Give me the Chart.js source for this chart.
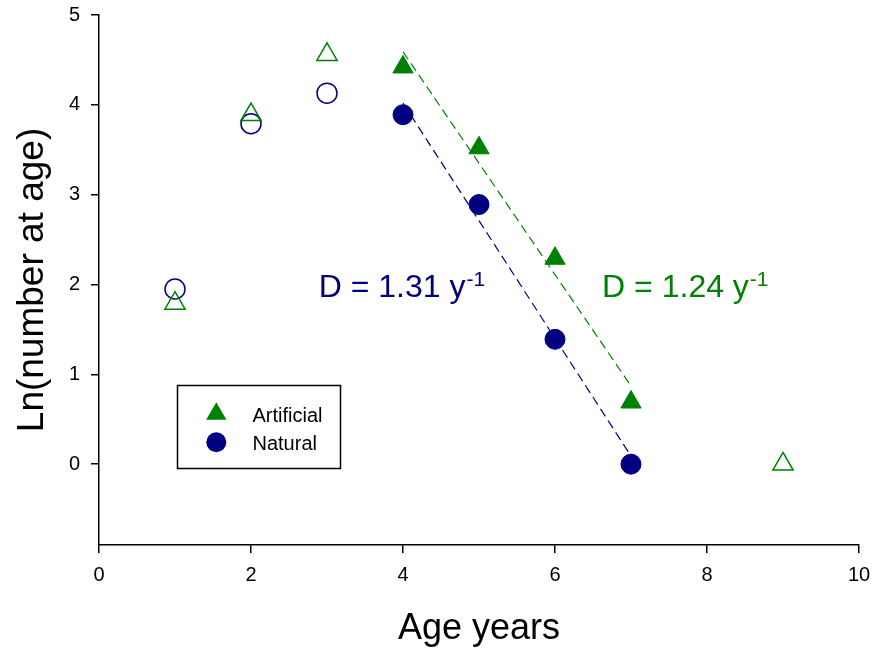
<!DOCTYPE html>
<html lang="en">
<head>
<meta charset="UTF-8">
<title>Ln(number at age) vs Age</title>
<script src="https://cdn.jsdelivr.net/npm/chart.js"></script>
<style>
  html, body { margin: 0; padding: 0; background: #fff; }
  #wrap { width: 874px; height: 651px; position: relative; }
</style>
</head>
<body>
<div id="wrap"><canvas id="chart"></canvas></div>
<script>
// data
const artificialAges = [1, 2, 3, 4, 5, 6, 7, 9];
const artificialLn   = [1.79, 3.89, 4.56, 4.42, 3.52, 2.29, 0.69, 0];
const artificialUsed = [false, false, false, true, true, true, true, false];

const naturalAges = [1, 2, 3, 4, 5, 6, 7];
const naturalLn   = [1.95, 3.79, 4.13, 3.89, 2.89, 1.39, 0];
const naturalUsed = [false, false, false, true, true, true, true];

// regression lines (end points)
const artificialFitX = [4, 7];
const artificialFitY = [4.59, 0.87];
const naturalFitX = [4, 7];
const naturalFitY = [4.02, 0.09];

const xTicks = [0, 2, 4, 6, 8, 10];
const yTicks = [0, 1, 2, 3, 4, 5];

const GREEN = '#008000';
const NAVY = '#000080';
const FONT = "'Liberation Sans', Arial, sans-serif";

function pts(xs, ys, keep) {
    const out = [];
    xs.forEach((x, i) => { if (keep(i)) out.push({ x: x, y: ys[i] }); });
    return out;
}

// annotations + legend + axis titles
const extras = {
    id: 'extras',
    afterDraw(chart) {
        const ctx = chart.ctx;
        const xs = chart.scales.x, ys = chart.scales.y;
        ctx.save();

        // axis titles
        ctx.fillStyle = '#000';
        ctx.font = '36px ' + FONT;
        ctx.textAlign = 'center';
        ctx.textBaseline = 'alphabetic';
        ctx.fillText('Age years', 479, 639);
        ctx.save();
        ctx.translate(43, 280);
        ctx.rotate(-Math.PI / 2);
        ctx.font = '37px ' + FONT;
        ctx.fillText('Ln(number at age)', 0, 0);
        ctx.restore();

        // rate labels
        function rateLabel(txt, xv, yv, color) {
            const px = xs.getPixelForValue(xv), py = ys.getPixelForValue(yv);
            ctx.fillStyle = color;
            ctx.textAlign = 'left';
            ctx.font = '32px ' + FONT;
            ctx.fillText(txt, px, py);
            const w = ctx.measureText(txt).width;
            ctx.font = '21px ' + FONT;
            ctx.fillText('-1', px + w + 1, py - 11);
        }
        rateLabel('D = 1.31 y', 2.89, 1.86, NAVY);
        rateLabel('D = 1.24 y', 6.62, 1.86, GREEN);

        // legend box
        ctx.strokeStyle = '#000';
        ctx.lineWidth = 1.5;
        ctx.strokeRect(177.5, 385.5, 163, 83);
        ctx.fillStyle = GREEN;
        const r = 11.7, cx = 216.3, cy = 414;
        ctx.beginPath();
        ctx.moveTo(cx, cy - r);
        ctx.lineTo(cx + r * Math.sin(2 * Math.PI / 3), cy + r / 2);
        ctx.lineTo(cx - r * Math.sin(2 * Math.PI / 3), cy + r / 2);
        ctx.closePath();
        ctx.fill();
        ctx.fillStyle = NAVY;
        ctx.beginPath();
        ctx.arc(216.3, 442.3, 10, 0, Math.PI * 2);
        ctx.fill();
        ctx.fillStyle = '#000';
        ctx.font = '20px ' + FONT;
        ctx.fillText('Artificial', 252.5, 421.5);
        ctx.fillText('Natural', 252.5, 450);

        ctx.restore();
    }
};

const openStyle = (color, shape, r) => ({
    pointStyle: shape, pointRadius: r, pointHoverRadius: r,
    backgroundColor: 'rgba(255,255,255,0)', borderColor: color, borderWidth: 1.5, showLine: false
});
const fillStyle = (color, shape, r) => ({
    pointStyle: shape, pointRadius: r, pointHoverRadius: r,
    backgroundColor: color, borderColor: color, borderWidth: 1, showLine: false
});

new Chart(document.getElementById('chart'), {
    type: 'scatter',
    data: {
        datasets: [
            Object.assign({ label: 'Artificial', order: 0,
                data: pts(artificialAges, artificialLn, i => artificialUsed[i]) }, fillStyle(GREEN, 'triangle', 11.7)),
            Object.assign({ label: 'Artificial (not fitted)', order: 0,
                data: pts(artificialAges, artificialLn, i => !artificialUsed[i]) }, openStyle(GREEN, 'triangle', 11.7)),
            Object.assign({ label: 'Natural', order: 0,
                data: pts(naturalAges, naturalLn, i => naturalUsed[i]) }, fillStyle(NAVY, 'circle', 10)),
            Object.assign({ label: 'Natural (not fitted)', order: 0,
                data: pts(naturalAges, naturalLn, i => !naturalUsed[i]) }, openStyle(NAVY, 'circle', 10)),
            { label: 'Artificial fit', order: 1, showLine: true, pointRadius: 0,
              data: pts(artificialFitX, artificialFitY, () => true),
              borderColor: GREEN, borderWidth: 1.2, borderDash: [9, 5] },
            { label: 'Natural fit', order: 1, showLine: true, pointRadius: 0,
              data: pts(naturalFitX, naturalFitY, () => true),
              borderColor: NAVY, borderWidth: 1.2, borderDash: [9, 5] }
        ]
    },
    options: {
        responsive: true,
        maintainAspectRatio: false,
        animation: false,
        layout: { padding: { left: 0, right: 15, top: 15, bottom: 0 } },
        plugins: { legend: { display: false }, tooltip: { enabled: false } },
        scales: {
            x: {
                type: 'linear', min: 0, max: 10,
                afterFit: s => { s.height = 106; s.paddingLeft = 0; s.paddingRight = 0; },
                afterBuildTicks: s => { s.ticks = xTicks.map(v => ({ value: v })); },
                border: { display: true, color: '#000', width: 1.5 },
                grid: { display: true, drawOnChartArea: false, drawTicks: true, tickLength: 8, color: '#000', lineWidth: 1.5 },
                ticks: { color: '#000', font: { family: FONT, size: 20 }, padding: 10, maxRotation: 0, autoSkip: false }
            },
            y: {
                type: 'linear', min: -0.9, max: 5,
                afterFit: s => { s.width = 99; s.paddingTop = 0; s.paddingBottom = 0; },
                afterBuildTicks: s => { s.ticks = yTicks.map(v => ({ value: v })); },
                border: { display: true, color: '#000', width: 1.5 },
                grid: { display: true, drawOnChartArea: false, drawTicks: true, tickLength: 8, color: '#000', lineWidth: 1.5 },
                ticks: { color: '#000', font: { family: FONT, size: 20 }, padding: 11 }
            }
        }
    },
    plugins: [extras]
});
</script>
</body>
</html>
